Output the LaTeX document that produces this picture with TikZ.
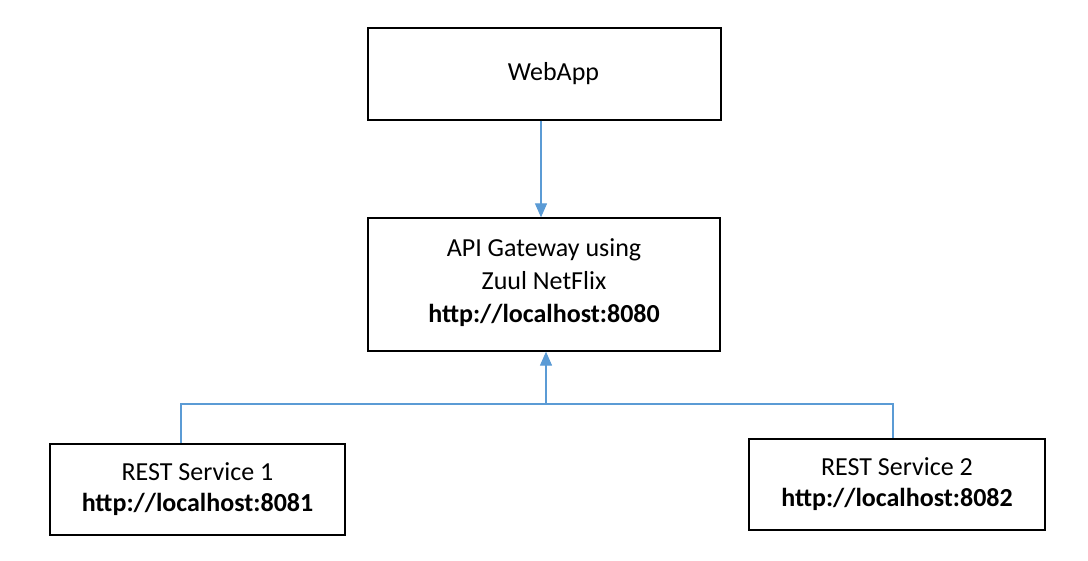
\documentclass[tikz,border=0pt]{standalone}
\usepackage{fontspec}
\setmainfont{Carlito}
\usetikzlibrary{arrows.meta}
\definecolor{conn}{HTML}{5B9BD5}
\begin{document}
\begin{tikzpicture}[x=1pt,y=-1pt,
  box/.style={draw=black,line width=1.3pt,inner sep=0pt,align=center,font=\fontsize{26}{33}\selectfont},
  link/.style={draw=conn,line width=1.1pt},
  tip/.style={-{Triangle[width=12pt,length=14pt]}}]
\useasboundingbox[fill=white] (0,0) rectangle (1088,561);
\node[box,minimum width=353pt,minimum height=92pt] (web) at (544.5,74) {\hspace*{18pt}WebApp};
\node[box,minimum width=352pt,minimum height=133pt] (api) at (544,284.5) {API Gateway using\\Zuul NetFlix\\\textbf{http://localhost:8080}\\[-25pt]\mbox{}};
\node[box,minimum width=295pt,minimum height=91pt,font=\fontsize{26}{31}\selectfont] (r1) at (197.5,489.5) {REST Service 1\\\textbf{http://localhost:8081}};
\node[box,minimum width=296pt,minimum height=91pt,font=\fontsize{26}{31}\selectfont] (r2) at (897,484.5) {REST Service 2\\\textbf{http://localhost:8082}};
\coordinate (wx) at (541,0);
\coordinate (j) at (546,404);
\coordinate (jl) at (181,404);
\coordinate (jr) at (893,404);
\draw[link,tip] (web.south -| wx) -- (api.north -| wx);
\draw[link,tip] (j) -- (api.south -| j);
\draw[link] (r1.north -| jl) -- (jl) -- (jr) -- (r2.north -| jr);
\end{tikzpicture}
\end{document}
